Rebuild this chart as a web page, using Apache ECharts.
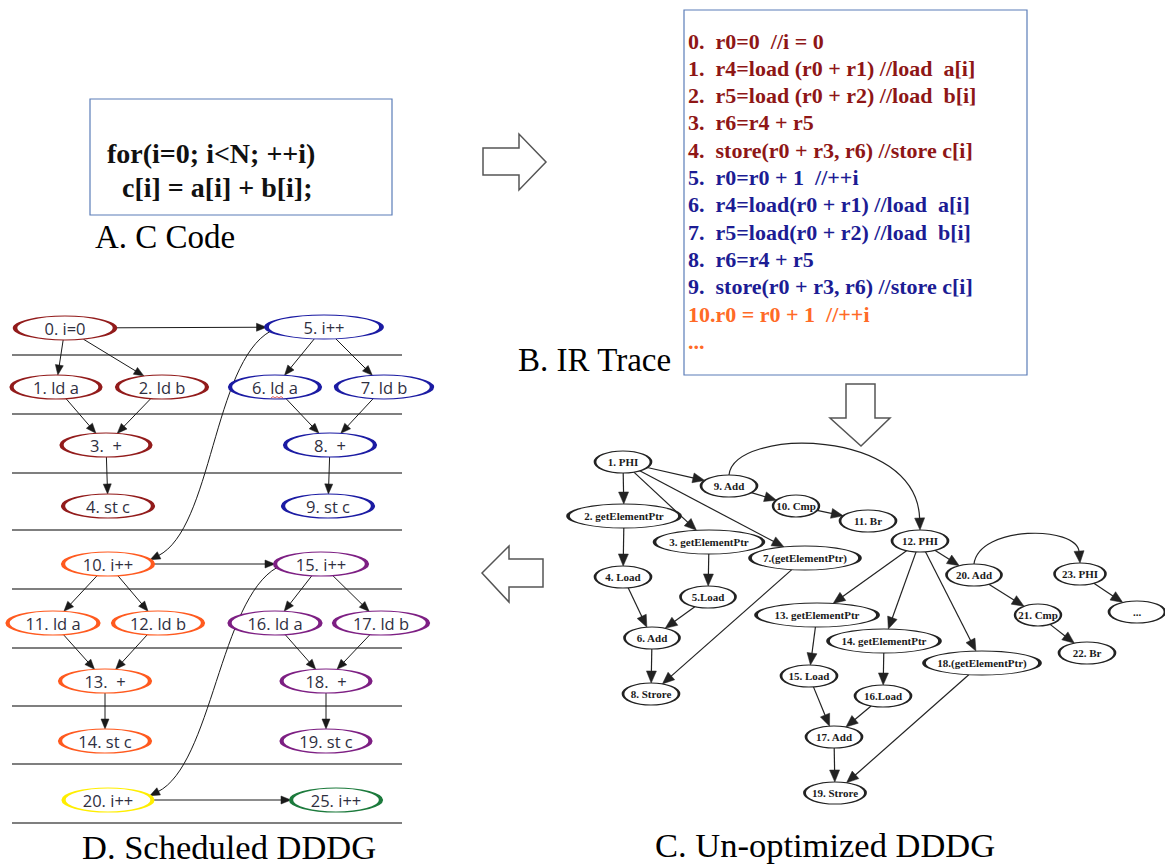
<!DOCTYPE html>
<html><head><meta charset="utf-8">
<script src="https://cdn.jsdelivr.net/npm/echarts@6/dist/echarts.min.js"></script>
<style>html,body{margin:0;padding:0;background:#fff}#c{width:1165px;height:866px}</style>
</head><body><div id="c"></div>
<script>
// ================= DATA =================
// A. C code
const codeLines = ['for(i=0; i<N; ++i)', 'c[i] = a[i] + b[i];'];
// B. IR trace
const irLines = [
  '0.\u00a0 r0=0 \u00a0//i = 0',
  '1.\u00a0 r4=load (r0 + r1) //load \u00a0a[i]',
  '2.\u00a0 r5=load (r0 + r2) //load \u00a0b[i]',
  '3.\u00a0 r6=r4 + r5',
  '4.\u00a0 store(r0 + r3, r6) //store c[i]',
  '5.\u00a0 r0=r0 + 1 \u00a0//++i',
  '6.\u00a0 r4=load(r0 + r1) //load \u00a0a[i]',
  '7.\u00a0 r5=load(r0 + r2) //load \u00a0b[i]',
  '8.\u00a0 r6=r4 + r5',
  '9.\u00a0 store(r0 + r3, r6) //store c[i]',
  '10.r0 = r0 + 1 \u00a0//++i',
  '...'
];
const irIter = [0,0,0,0,0,1,1,1,1,1,2,2];
const panelLabels = ['A. C Code', 'B. IR Trace', 'C. Un-optimized DDDG', 'D. Scheduled DDDG'];

// D. Scheduled DDDG (nodes)
const dLabels = ['0. i=0','1. ld a','2. ld b','3.  +','4. st c','5. i++','6. ld a','7. ld b','8.  +','9. st c',
                 '10. i++','11. ld a','12. ld b','13.  +','14. st c','15. i++','16. ld a','17. ld b','18.  +','19. st c',
                 '20. i++','25. i++'];
const dX = [65,56,162,106,108,324,275,384,330,328, 108,53,158,105,105,321,275,381,326,326, 108,336];
const dY = [328,387,387,445,506,327,387,387,445,506, 564,623,623,681,741,564,623,623,681,741, 800,800];
const dW = [100,89,90,89,90,115,90,96,90,90, 90,91,90,90,90,92,91,94,89,89, 89,90];
const dIter = [0,0,0,0,0,1,1,1,1,1, 2,2,2,2,2,3,3,3,3,3, 4,5];
// D edges
const dEdgeFrom = [0,0,0,1,2,3,5,5,6,7,8,5, 10,10,10,11,12,13,15,15,16,17,18,15,20];
const dEdgeTo   = [1,2,5,3,3,4,6,7,8,8,9,10, 15,11,12,13,13,14,16,17,18,18,19,20,21];
const dEdgeKind = ['l','l','l','l','l','l','l','l','l','l','l','s', 'l','l','l','l','l','l','l','l','l','l','l','s','l'];
// D cycle separators
const dSepY = [355,414,473,530,589,648,706,764,823];

// C. Un-optimized DDDG (nodes)
const cLabels = ['1. PHI','2. getElementPtr','3. getElementPtr','4. Load','5.Load','6. Add','7.(getElementPtr)','8. Strore',
                 '9. Add','10. Cmp','11. Br','12. PHI','13. getElementPtr','14. getElementPtr','15. Load','16.Load',
                 '17. Add','18.(getElementPtr)','19. Strore','20. Add','21. Cmp','22. Br','23. PHI','...'];
const cX = [623,624,709,623,708,652,805,651, 729,796,868,920,817,884,809,883, 834,982,835,974,1038,1087,1080,1137];
const cY = [462,516,542,577,597,638,558,694, 486,506,521,541,615,641,676,696, 737,663,793,575,615,653,574,612];
const cW = [56,112,109,56,55,55,110,56, 56,46,56,56,122,112,56,56, 56,116,61,55,46,56,51,56];
// C edges
const cEdgeFrom = [0,0,0,0,8,9,8, 1,2,3,4,5,6, 11,11,11,11,19,19,20,22, 12,13,14,15,16,17];
const cEdgeTo   = [1,8,2,6,9,10,11, 3,4,5,5,7,7, 12,13,17,19,22,20,21,23, 14,15,16,16,18,18];
const cEdgeKind = ['l','l','l','l','l','l','a', 'l','l','l','l','l','l', 'l','l','l','l','a','l','l','l', 'l','l','l','l','l','l'];

// ================= STYLE =================
const iterColors = ['#921b1b','#1b1ba3','#ff5a1f','#7d1f83','#ffee00','#1c7a3c'];
const irColors = ['#8e1616','#1c1c94','#ff6a27'];
const boxColor = '#5b7db8';
const ELLIPSE = 'path://M0,50C0,22.4 22.4,0 50,0C77.6,0 100,22.4 100,50C100,77.6 77.6,100 50,100C22.4,100 0,77.6 0,50Z';
const dH = 24, cH = 22;

function clip(c, a, b, dx, dy) {
  const t = 1 / Math.sqrt(dx * dx / (a * a) + dy * dy / (b * b));
  return [c[0] + dx * t, c[1] + dy * t];
}
function edgeRenderer(W, Hs, from, to, kind, st) {
  return function (params, api) {
    const i = params.dataIndex;
    const s = from[i], t = to[i];
    const ps = api.coord([api.value(0), api.value(1)]);
    const pt = api.coord([api.value(2), api.value(3)]);
    const as = W[s] / 2, bs = Hs(s) / 2, at = W[t] / 2, bt = Hs(t) / 2;
    let P0, P1, P2, P3;
    const k = kind[i];
    if (k === 's') {
      P0 = clip(ps, as, bs, -1, 0.08);
      P3 = clip(pt, at, bt, 1, -0.1);
      P1 = [P0[0] - 57, P0[1] + 32];
      P2 = [P3[0] + 62, P3[1] - 31];
    } else if (k === 'a') {
      P0 = [ps[0], ps[1] - bs];
      P3 = [pt[0], pt[1] - bt];
      const lift = 25 + 0.12 * Math.abs(P3[0] - P0[0]);
      const top = Math.min(P0[1], P3[1]) - lift;
      P1 = [P0[0] + 5, top];
      P2 = [P3[0] - 3, top];
    } else {
      const dx = pt[0] - ps[0], dy = pt[1] - ps[1];
      P0 = clip(ps, as, bs, dx, dy);
      P3 = clip(pt, at, bt, -dx, -dy);
    }
    const ref = P2 || P0;
    let ux = P3[0] - ref[0], uy = P3[1] - ref[1];
    const n = Math.hypot(ux, uy); ux /= n; uy /= n;
    const L = st.L, Wd = st.W;
    const bx = P3[0] - ux * L, by = P3[1] - uy * L;
    const ex = bx + ux, ey = by + uy;
    const children = [];
    if (P1) {
      children.push({type: 'bezierCurve', shape: {x1: P0[0], y1: P0[1], cpx1: P1[0], cpy1: P1[1], cpx2: P2[0], cpy2: P2[1], x2: ex, y2: ey},
        style: {stroke: st.color, lineWidth: st.lw, fill: 'none'}});
    } else {
      children.push({type: 'line', shape: {x1: P0[0], y1: P0[1], x2: ex, y2: ey}, style: {stroke: st.color, lineWidth: st.lw, fill: 'none'}});
    }
    children.push({type: 'polygon', shape: {points: [[P3[0], P3[1]], [bx - uy * Wd / 2, by + ux * Wd / 2], [bx + uy * Wd / 2, by - ux * Wd / 2]]},
      style: {fill: st.color, stroke: st.color, lineWidth: 0.5}});
    return {type: 'group', children: children};
  };
}

// ================= CHART =================
const chart = echarts.init(document.getElementById('c'), null, {renderer: 'svg', width: 1165, height: 866});

const graphics = [];
// Box A
graphics.push({type: 'rect', shape: {x: 90, y: 99, width: 302, height: 116}, style: {fill: '#fff', stroke: boxColor, lineWidth: 1.2}});
codeLines.forEach(function (t, i) {
  graphics.push({type: 'text', x: i === 0 ? 107 : 122, y: 153 + i * 34,
    style: {text: t, font: 'bold 28px "Liberation Serif", serif', fill: '#111', align: 'left', verticalAlign: 'middle'}});
});
// Box B
graphics.push({type: 'rect', shape: {x: 684, y: 10, width: 343, height: 365}, style: {fill: '#fff', stroke: boxColor, lineWidth: 1.2}});
irLines.forEach(function (t, i) {
  graphics.push({type: 'text', x: 688, y: 41 + i * 27.3,
    style: {text: t, font: 'bold 22px "Liberation Serif", serif', fill: irColors[irIter[i]], align: 'left', verticalAlign: 'middle'}});
});
// Panel labels
const labelPos = [[95, 237], [518, 360], [655, 845], [82, 847]];
const labelSize = [33, 33, 34.5, 34.5];
panelLabels.forEach(function (t, i) {
  graphics.push({type: 'text', x: labelPos[i][0], y: labelPos[i][1],
    style: {text: t, font: labelSize[i] + 'px "Liberation Serif", serif', fill: '#000', align: 'left', verticalAlign: 'middle'}});
});
// Block arrows
const arrowStyle = {fill: '#fff', stroke: '#555', lineWidth: 1.5};
graphics.push({type: 'polygon', shape: {points: [[483,148],[519,148],[519,134],[546,162],[519,190],[519,175],[483,175]]}, style: arrowStyle});
graphics.push({type: 'polygon', shape: {points: [[846,384],[875,384],[875,418],[890,418],[861,446],[830,418],[846,418]]}, style: arrowStyle});
graphics.push({type: 'polygon', shape: {points: [[482,573],[509,546],[509,559],[543,559],[543,587],[509,587],[509,602]]}, style: arrowStyle});
// spell-check squiggle under "ld" of node 6
graphics.push({type: 'polyline', z: 100, shape: {points: [[271,398],[273,396.5],[275,398],[277,396.5],[279,398],[281,396.5],[283,398]]},
  style: {stroke: '#e03030', lineWidth: 0.8, fill: 'none'}});

const option = {
  animation: false,
  backgroundColor: '#fff',
  grid: {left: 0, right: 0, top: 0, bottom: 0},
  xAxis: {type: 'value', min: 0, max: 1165, show: false},
  yAxis: {type: 'value', min: 0, max: 866, inverse: true, show: false},
  graphic: graphics,
  series: [
    { // D separators
      type: 'custom', silent: true, clip: false, z: 1,
      data: dSepY.map(function (y) { return [12, y, 402, y]; }),
      encode: {x: [0, 2], y: [1, 3]},
      renderItem: function (params, api) {
        const a = api.coord([api.value(0), api.value(1)]);
        const b = api.coord([api.value(2), api.value(3)]);
        return {type: 'line', shape: {x1: a[0], y1: a[1], x2: b[0], y2: b[1]}, style: {stroke: '#555', lineWidth: 1.5}};
      }
    },
    { // D edges
      type: 'custom', silent: true, clip: false, z: 2,
      data: dEdgeFrom.map(function (f, i) { return [dX[f], dY[f], dX[dEdgeTo[i]], dY[dEdgeTo[i]]]; }),
      encode: {x: [0, 2], y: [1, 3]},
      renderItem: edgeRenderer(dW, function () { return dH; }, dEdgeFrom, dEdgeTo, dEdgeKind, {color: '#1a1a1a', lw: 1, L: 10, W: 8})
    },
    { // D nodes
      type: 'scatter', silent: true, clip: false, z: 3,
      symbol: ELLIPSE,
      data: dLabels.map(function (n, i) {
        return {name: n, value: [dX[i], dY[i]], symbolSize: [dW[i], dH],
          itemStyle: {color: '#fff', borderColor: iterColors[dIter[i]], borderWidth: 2.2, opacity: 1}};
      }),
      label: {show: true, position: 'inside', formatter: '{b}', color: '#2f2f3f', fontFamily: '"Open Sans", sans-serif', fontSize: 16.5}
    },
    { // C edges
      type: 'custom', silent: true, clip: false, z: 2,
      data: cEdgeFrom.map(function (f, i) { return [cX[f], cY[f], cX[cEdgeTo[i]], cY[cEdgeTo[i]]]; }),
      encode: {x: [0, 2], y: [1, 3]},
      renderItem: edgeRenderer(cW, function (k) { return cLabels[k].indexOf('getElementPtr') >= 0 ? 24 : cH; }, cEdgeFrom, cEdgeTo, cEdgeKind, {color: '#222', lw: 1.2, L: 12, W: 10})
    },
    { // C nodes
      type: 'scatter', silent: true, clip: false, z: 3,
      symbol: ELLIPSE,
      data: cLabels.map(function (n, i) {
        return {name: n, value: [cX[i], cY[i]], symbolSize: [cW[i], n.indexOf('getElementPtr') >= 0 ? 24 : cH],
          itemStyle: {color: '#fff', borderColor: '#222', borderWidth: 1.7, opacity: 1}};
      }),
      label: {show: true, position: 'inside', formatter: '{b}', color: '#1a1a1a', fontFamily: '"Liberation Serif", serif', fontWeight: 'bold', fontSize: 11}
    }
  ]
};
chart.setOption(option);
</script>
</body></html>
